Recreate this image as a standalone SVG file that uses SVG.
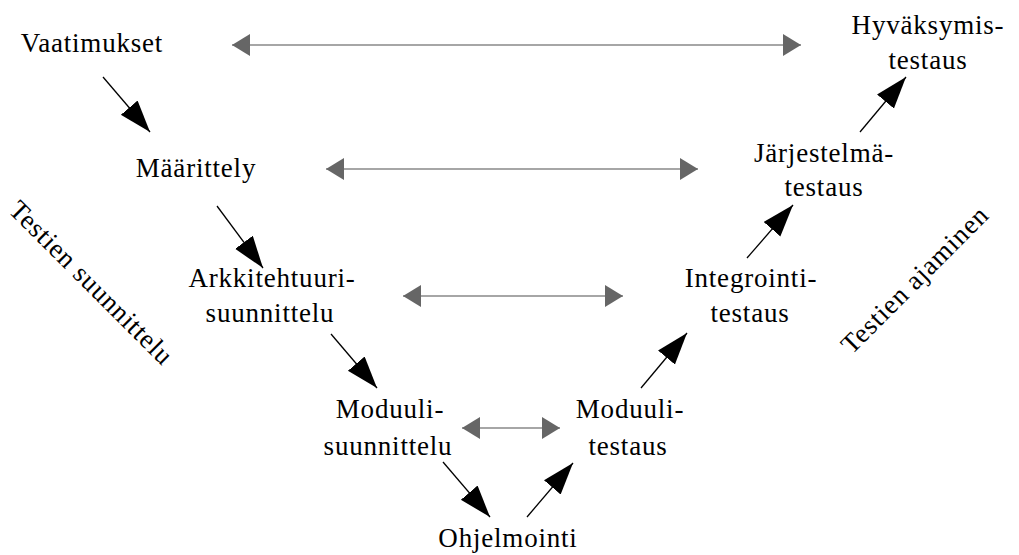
<svg xmlns="http://www.w3.org/2000/svg" width="1019" height="555" viewBox="0 0 1019 555">
  <style>
    text { font-family: "Liberation Serif", "DejaVu Serif", serif; font-size: 27px; letter-spacing: 0.8px; fill: #000; text-anchor: middle; }
    .flow { stroke: #000; stroke-width: 1.3; fill: none; marker-end: url(#headBlack); }
    .pair { stroke: #888; stroke-width: 1.6; fill: none; marker-start: url(#headGray); marker-end: url(#headGray); }
  </style>
  <defs>
    <marker id="headBlack" markerUnits="userSpaceOnUse" markerWidth="34" markerHeight="24" refX="32" refY="11" orient="auto">
      <path d="M0,0 L32,11 L0,22 z" fill="#000"/>
    </marker>
    <marker id="headGray" markerUnits="userSpaceOnUse" markerWidth="20" markerHeight="24" refX="18" refY="11" orient="auto-start-reverse">
      <path d="M0,0 L18,11 L0,22 z" fill="#666"/>
    </marker>
  </defs>
  <rect width="1019" height="555" fill="#fff"/>

  <!-- connectors -->
  <g id="connectors">
    <!-- design side, going down -->
    <line class="flow" x1="103" y1="77" x2="150" y2="132"/>
    <line class="flow" x1="217" y1="206" x2="263" y2="268"/>
    <line class="flow" x1="331" y1="334" x2="377" y2="388"/>
    <line class="flow" x1="443" y1="462" x2="490" y2="517"/>
    <!-- testing side, going up -->
    <line class="flow" x1="527" y1="517" x2="573" y2="463"/>
    <line class="flow" x1="641" y1="388" x2="687" y2="333"/>
    <line class="flow" x1="747" y1="258" x2="793" y2="205"/>
    <line class="flow" x1="860" y1="132" x2="906" y2="77"/>
    <!-- level correspondences -->
    <line class="pair" x1="232" y1="45" x2="801" y2="45"/>
    <line class="pair" x1="326" y1="169" x2="698" y2="169"/>
    <line class="pair" x1="403" y1="296" x2="623" y2="296"/>
    <line class="pair" x1="462" y1="428" x2="560" y2="428"/>
  </g>

  <g id="vaatimukset"><text x="92" y="52">Vaatimukset</text></g>
  <g id="maarittely"><text x="196" y="177">Määrittely</text></g>
  <g id="arkkitehtuuri">
    <text x="272" y="287">Arkkitehtuuri-</text>
    <text x="270" y="322">suunnittelu</text>
  </g>
  <g id="moduulisuunnittelu">
    <text x="390" y="418">Moduuli-</text>
    <text x="388" y="455">suunnittelu</text>
  </g>
  <g id="ohjelmointi"><text x="508" y="547">Ohjelmointi</text></g>
  <g id="moduulitestaus">
    <text x="630" y="418">Moduuli-</text>
    <text x="628" y="455">testaus</text>
  </g>
  <g id="integrointi">
    <text x="751" y="287">Integrointi-</text>
    <text x="750" y="322">testaus</text>
  </g>
  <g id="jarjestelma">
    <text x="824" y="162">Järjestelmä-</text>
    <text x="824" y="196">testaus</text>
  </g>
  <g id="hyvaksymis">
    <text x="928" y="34">Hyväksymis-</text>
    <text x="928" y="69">testaus</text>
  </g>

  <g id="label-suunnittelu"><text transform="translate(85,289) rotate(45)">Testien suunnittelu</text></g>
  <g id="label-ajaminen"><text transform="translate(921,286) rotate(-45)">Testien ajaminen</text></g>
</svg>
